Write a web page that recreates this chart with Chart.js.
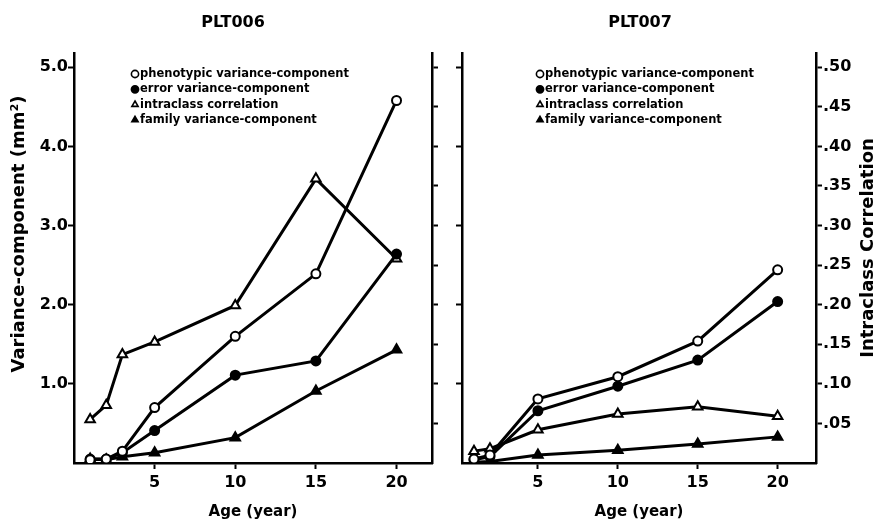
<!DOCTYPE html>
<html><head><meta charset="utf-8">
<script src="https://cdn.jsdelivr.net/npm/chart.js@4.4.1/dist/chart.umd.min.js"></script>
<style>
html,body{margin:0;padding:0;background:#fff;}
#wrap{position:relative;width:879px;height:523px;overflow:hidden;}
.box{position:absolute;top:0;height:523px;}
</style></head><body>
<div id="wrap">
<div class="box" style="left:0;width:440px"><canvas id="c1"></canvas></div>
<div class="box" style="left:440px;width:439px"><canvas id="c2"></canvas></div>
</div>
<script>
// ---- data ----
const panelTitles = ['PLT006', 'PLT007'];
const seriesNames = ['phenotypic variance-component', 'error variance-component', 'intraclass correlation', 'family variance-component'];
const ages006 = [1, 2, 3, 5, 10, 15, 20];
const plt006Phenotypic = [0.04, 0.05, 0.15, 0.70, 1.60, 2.39, 4.58];
const plt006Error      = [0.05, 0.05, 0.13, 0.41, 1.11, 1.29, 2.64];
const plt006Intraclass = [0.055, 0.073, 0.137, 0.153, 0.199, 0.359, 0.258];
const plt006Family     = [0.05, 0.04, 0.08, 0.13, 0.32, 0.91, 1.43];
const ages007 = [1, 2, 5, 10, 15, 20];
const plt007Phenotypic = [0.05, 0.10, 0.81, 1.09, 1.54, 2.44];
const plt007Error      = [0.04, 0.08, 0.66, 0.97, 1.30, 2.04];
const plt007Intraclass = [0.015, 0.018, 0.042, 0.062, 0.071, 0.059];
const plt007Family     = [0.01, 0.02, 0.10, 0.16, 0.24, 0.33];
const xTicks = [5, 10, 15, 20];
const varianceTicks = [1, 2, 3, 4, 5];
const varianceTickLabels = ['1.0', '2.0', '3.0', '4.0', '5.0'];
const corrTicks = [0.05, 0.10, 0.15, 0.20, 0.25, 0.30, 0.35, 0.40, 0.45, 0.50];
const corrTickLabels = ['.05', '.10', '.15', '.20', '.25', '.30', '.35', '.40', '.45', '.50'];
const xTitle = 'Age (year)';
const yTitle = 'Variance-component (mm\u00B2)';
const y2Title = 'Intraclass Correlation';

// ---- styling / helpers ----
const FONT = "'DejaVu Sans', 'Liberation Sans', Arial, sans-serif";
const markerStyles = [
  { pointStyle: 'circle', fill: '#fff', r: 4.5 },
  { pointStyle: 'circle', fill: '#000', r: 4.5 },
  { pointStyle: 'triangle', fill: '#fff', r: 5.5 },
  { pointStyle: 'triangle', fill: '#000', r: 5.5 }
];

function buildDatasets(xs, series) {
  return series.map((vals, k) => ({
    label: seriesNames[k],
    data: vals.map((v, i) => ({ x: xs[i], y: v })),
    yAxisID: k === 2 ? 'y2' : 'y',
    borderColor: '#000',
    borderWidth: 3,
    pointStyle: markerStyles[k].pointStyle,
    pointBackgroundColor: markerStyles[k].fill,
    pointBorderColor: '#000',
    pointBorderWidth: 2,
    pointRadius: markerStyles[k].r,
    tension: 0,
    fill: false
  }));
}

const decorPlugin = {
  id: 'decor',
  afterDraw(chart, args, o) {
    const ctx = chart.ctx;
    ctx.save();
    ctx.fillStyle = '#000';
    // panel title
    ctx.font = 'bold 16px ' + FONT;
    ctx.textAlign = 'center';
    ctx.textBaseline = 'middle';
    ctx.fillText(o.title, o.titleX, 23);
    // rotated axis title
    ctx.save();
    ctx.translate(o.vTitleX, o.vTitleY);
    ctx.rotate(-Math.PI / 2);
    ctx.font = 'bold 18px ' + FONT;
    ctx.fillText(o.vTitle, 0, 0);
    ctx.restore();
    // legend
    ctx.font = 'bold 11.5px ' + FONT;
    ctx.textAlign = 'left';
    chart.data.datasets.forEach((ds, k) => {
      const y = o.legY + k * 15.3;
      const mx = o.legX;
      ctx.save();
      ctx.lineWidth = 1.6;
      ctx.strokeStyle = '#000';
      ctx.fillStyle = ds.pointBackgroundColor;
      Chart.helpers.drawPoint(ctx, { pointStyle: ds.pointStyle, radius: 3.6, borderWidth: 1.6 }, mx, y);
      ctx.restore();
      ctx.fillStyle = '#000';
      ctx.fillText(ds.label, mx + 5, y);
    });
    ctx.restore();
  }
};

function makePanel(id, cfg) {
  const tickFont = { family: FONT, weight: 'bold', size: 16 };
  const axisBorder = { display: true, color: '#000', width: 2.5 };
  const gridOpts = { drawOnChartArea: false, drawTicks: true, tickLength: 6, tickWidth: 2, tickColor: '#000', color: '#000' };
  return new Chart(document.getElementById(id), {
    type: 'line',
    data: { datasets: buildDatasets(cfg.xs, cfg.series) },
    options: {
      responsive: true,
      maintainAspectRatio: false,
      animation: false,
      layout: { padding: { top: 53, left: 0, right: 0, bottom: 0 } },
      plugins: {
        legend: { display: false },
        tooltip: { enabled: false },
        decor: cfg.decor
      },
      scales: {
        x: {
          type: 'linear', min: cfg.xMin, max: cfg.xMax,
          afterBuildTicks: s => { s.ticks = xTicks.map(v => ({ value: v })); },
          afterFit: s => { s.height = 60; },
          border: axisBorder,
          grid: gridOpts,
          ticks: { font: tickFont, color: '#000', padding: 4, maxRotation: 0, callback: v => String(v) },
          title: { display: true, text: xTitle, color: '#000', font: { family: FONT, weight: 'bold', size: 15 }, padding: { top: 0, bottom: 2 } }
        },
        y: {
          type: 'linear', position: 'left', min: 0, max: 5.18,
          afterBuildTicks: s => { s.ticks = varianceTicks.map(v => ({ value: v })); },
          afterFit: s => { s.width = cfg.leftW; },
          border: axisBorder,
          grid: gridOpts,
          ticks: { display: cfg.leftLabels, font: tickFont, color: '#000', padding: 0, callback: (v, i) => varianceTickLabels[i] }
        },
        y2: {
          type: 'linear', position: 'right', min: 0, max: 0.518,
          afterBuildTicks: s => { s.ticks = corrTicks.map(v => ({ value: v })); },
          afterFit: s => { s.width = cfg.rightW; },
          border: axisBorder,
          grid: gridOpts,
          ticks: { display: cfg.rightLabels, font: tickFont, color: '#000', padding: 1, callback: (v, i) => corrTickLabels[i] }
        }
      }
    },
    plugins: [decorPlugin]
  });
}

makePanel('c1', {
  xs: ages006,
  series: [plt006Phenotypic, plt006Error, plt006Intraclass, plt006Family],
  xMin: 0, xMax: 22.2, leftW: 74, rightW: 8, leftLabels: true, rightLabels: false,
  decor: { title: panelTitles[0], titleX: 233, vTitle: yTitle, vTitleX: 19, vTitleY: 234, legX: 135, legY: 74 }
});
makePanel('c2', {
  xs: ages007,
  series: [plt007Phenotypic, plt007Error, plt007Intraclass, plt007Family],
  xMin: 0.25, xMax: 22.4, leftW: 22, rightW: 63, leftLabels: false, rightLabels: true,
  decor: { title: panelTitles[1], titleX: 200, vTitle: y2Title, vTitleX: 428, vTitleY: 248, legX: 100, legY: 74 }
});
</script>
</body></html>
